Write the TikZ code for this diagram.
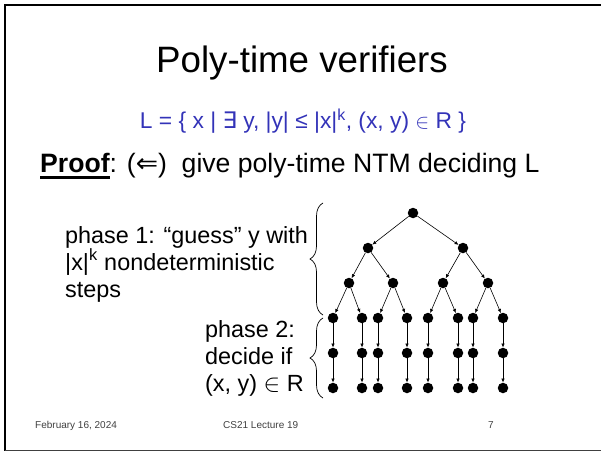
\documentclass[tikz,border=0pt]{standalone}
\usepackage{fontspec}
\setmainfont{Liberation Sans}
\newfontfamily\symfont{DejaVu Sans}
\usetikzlibrary{arrows.meta,decorations.pathreplacing}
\definecolor{setblue}{HTML}{3333B8}
\definecolor{footgray}{HTML}{404040}
\newcommand{\thickul}[1]{\setbox0=\hbox{#1}\rlap{\rule[-6.6pt]{\wd0}{2.6pt}}\box0}
\tikzset{vtx/.style={circle, fill=black, inner sep=0pt, minimum size=10.5pt}, move/.style={-{Latex[length=4pt,width=3.5pt]}, line width=.6pt}, phasebrace/.style={decorate, decoration={brace, amplitude=13pt}, line width=.7pt}, body/.style={font=\fontsize{23.4}{27}\selectfont, align=left, anchor=base west, inner sep=0pt}, foot/.style={anchor=base west, inner sep=0pt, font=\fontsize{10}{12}\selectfont, text=footgray}}

\begin{document}
\begin{tikzpicture}[x=1pt,y=-1pt]
\useasboundingbox (0,0) rectangle (601,452);
% slide frame
\draw[line width=2pt] (4.7,450.5) -- (4.7,4.7) -- (601,4.7);
\draw[line width=1.5pt, footgray] (4.7,450.5) -- (601,450.5);
\node[anchor=base, inner sep=0pt, font=\fontsize{36.7}{40}\selectfont] (title) at (302,72) {Poly-time verifiers};
\node[anchor=base, inner sep=0pt, font=\fontsize{22.8}{26}\selectfont, text=setblue] (lang) at (303,128) {L = \{ x | {\symfont ∃} y, |y| ≤ |x|\textsuperscript{k}, (x, y) $\in$ R \}};
\node[anchor=base west, inner sep=0pt, font=\fontsize{26.6}{30}\selectfont] (proof) at (40,172) {\thickul{\textbf{Proof}}: ({\symfont ⇐})\ \ give poly-time NTM deciding L};
% the computation tree
\node[vtx] (r) at (413,213) {};
\node[vtx] (a1) at (368,248) {}; \node[vtx] (a2) at (463,248) {};
\foreach \n/\x in {1/349,2/393,3/443,4/488} \node[vtx] (b\n) at (\x,283) {};
\foreach \n/\x in {1/333,2/362,3/378,4/407,5/428,6/458,7/473,8/503} {
  \node[vtx] (c\n) at (\x,318) {}; \node[vtx] (d\n) at (\x,353) {}; \node[vtx] (e\n) at (\x,388) {};
  \draw[move] (c\n) -- (d\n); \draw[move] (d\n) -- (e\n);}
\draw[move] (r) -- (a1); \draw[move] (r) -- (a2);
\foreach \p/\k in {a1/b1,a1/b2,a2/b3,a2/b4,b1/c1,b1/c2,b2/c3,b2/c4,b3/c5,b3/c6,b4/c7,b4/c8} \draw[move] (\p) -- (\k);
% the two phases
\draw[phasebrace] (323,315) -- (323,203);
\draw[phasebrace] (323,398) -- (323,318);
\node[body] (phaseone) at (65,297) {phase 1: “guess” y with\\|x|\textsuperscript{k} nondeterministic\\steps};
\node[body] (phasetwo) at (205,391) {phase 2:\\decide if\\(x, y) $\in$ R};
\node[foot] (date) at (35,428) {February 16, 2024};
\node[foot] (course) at (223,428) {CS21 Lecture 19};
\node[foot] (page) at (488,428) {7};
\end{tikzpicture}
\end{document}
